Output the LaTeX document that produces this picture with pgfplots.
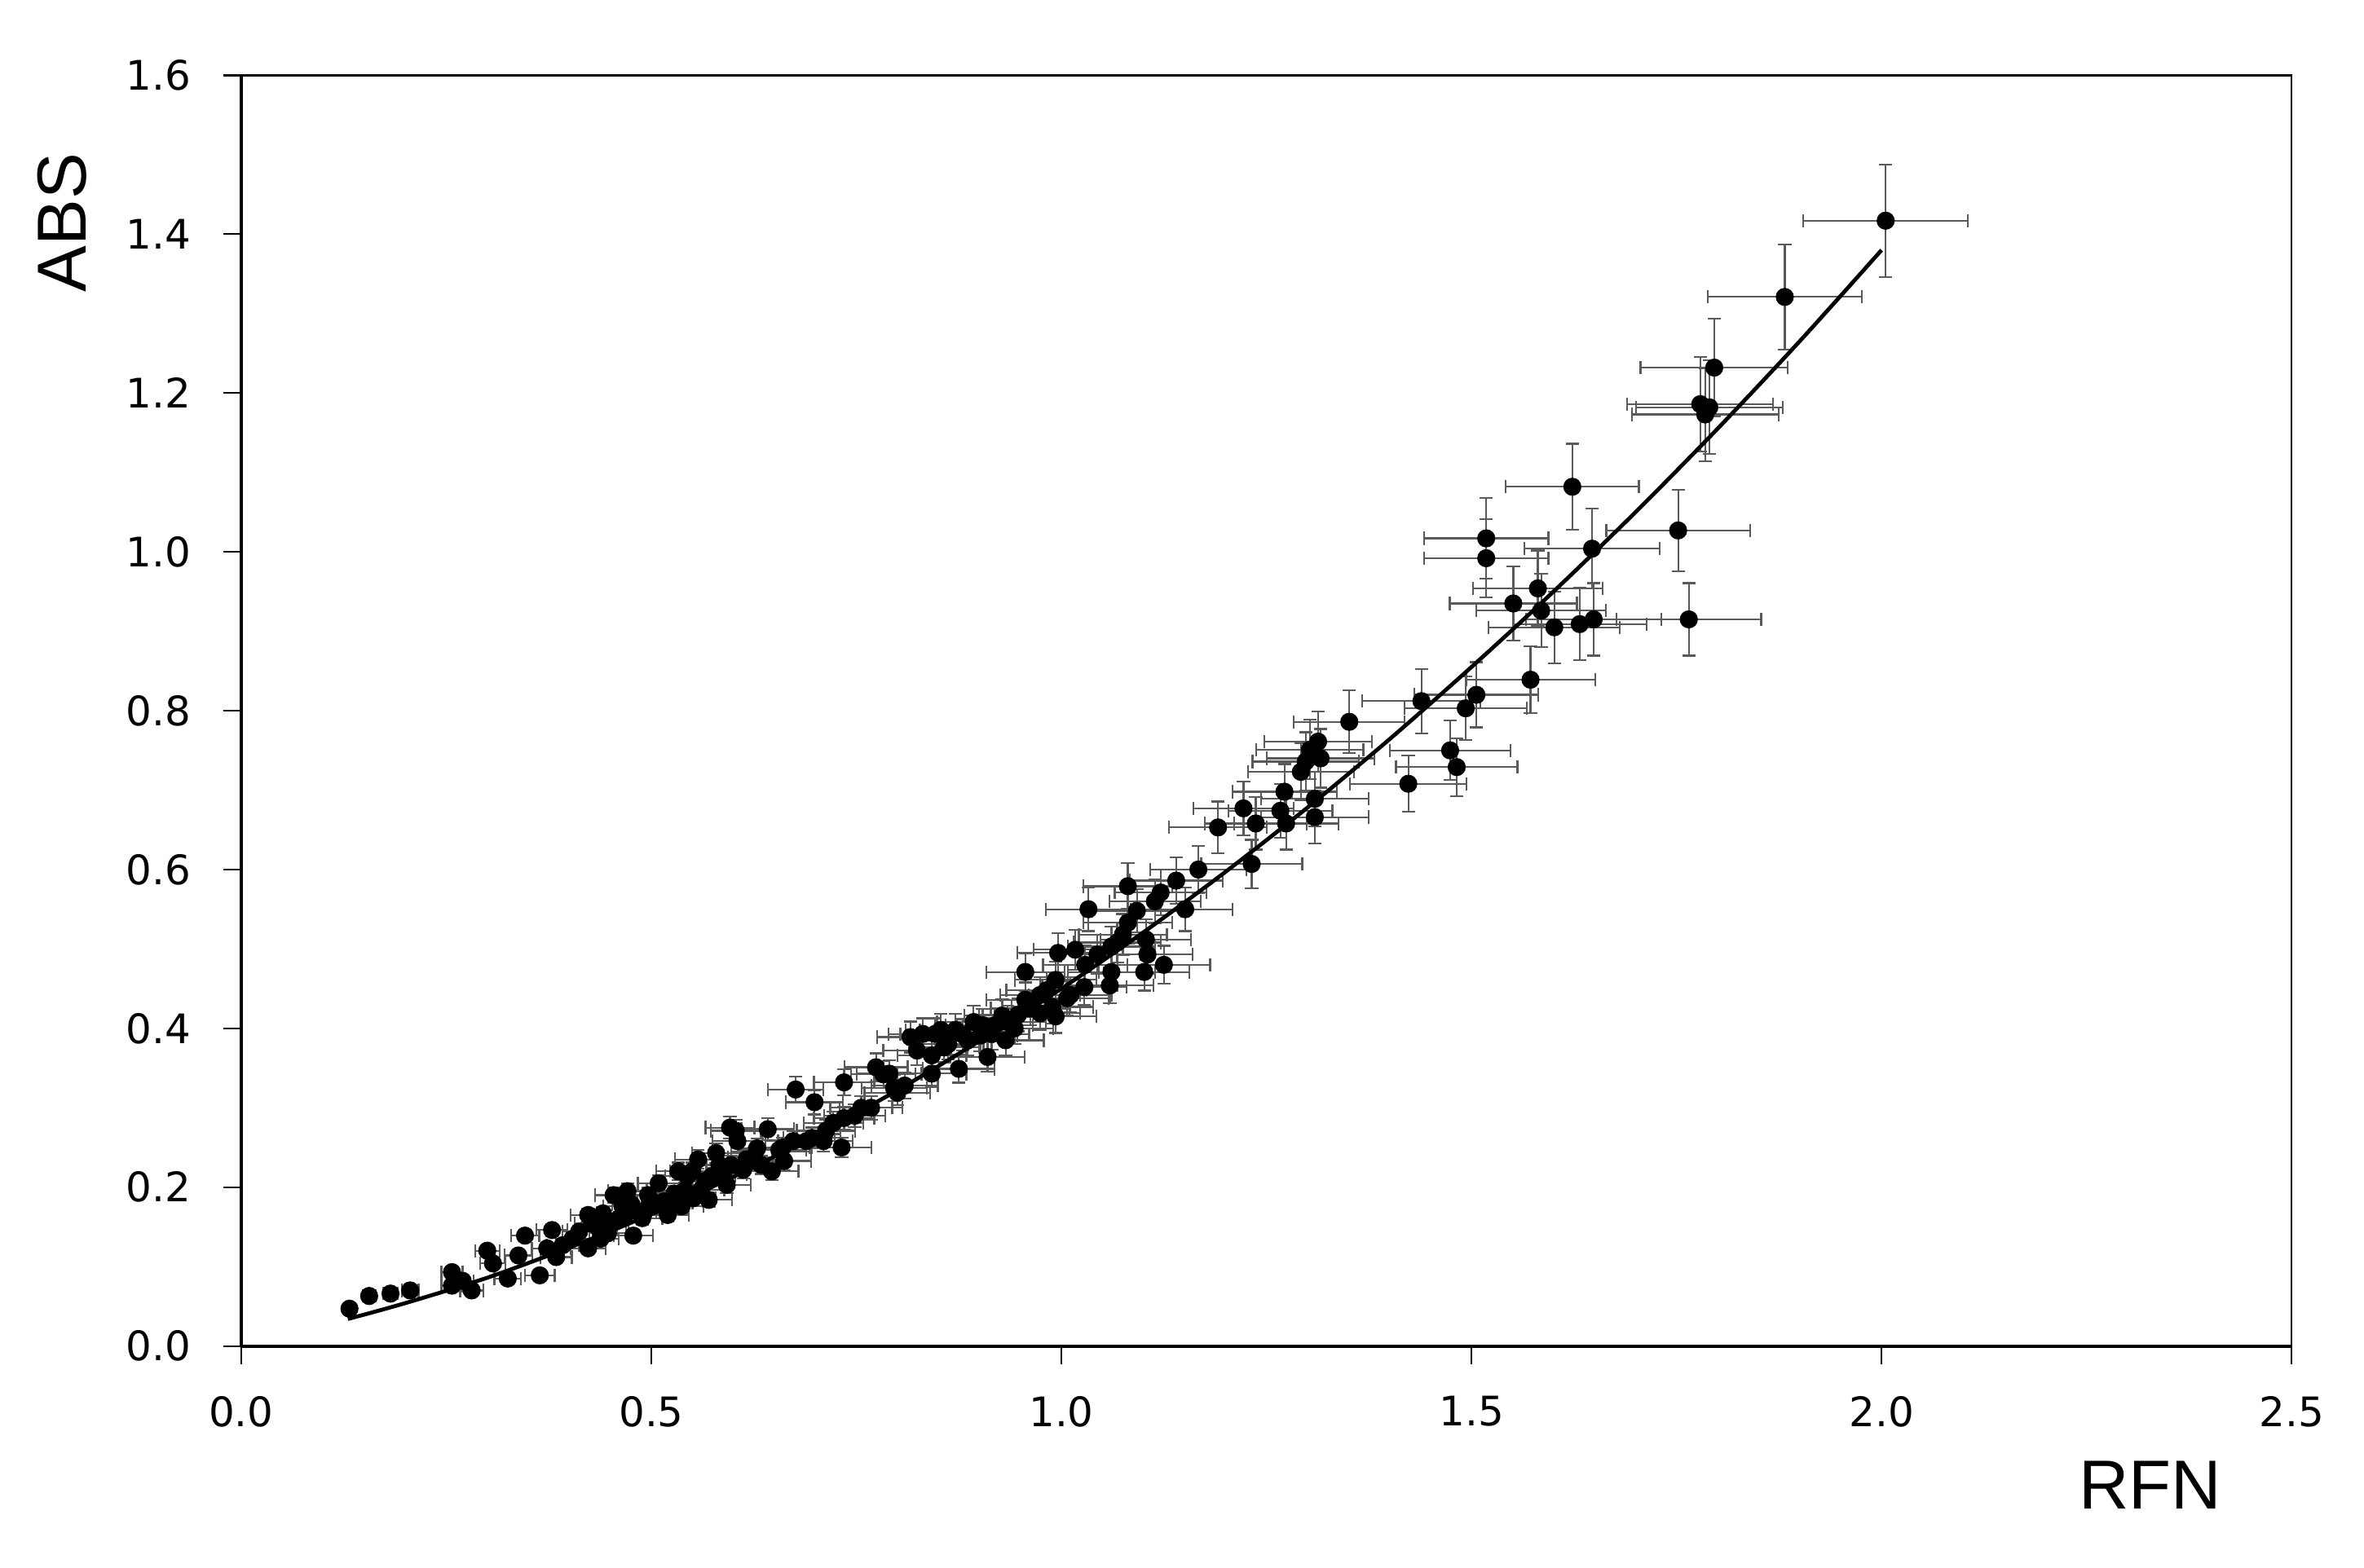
\documentclass[border=0pt]{standalone}
\usepackage{fontspec}
\setmainfont{DejaVu Sans}
\newfontfamily\labelfont{Liberation Sans}
\usepackage{pgfplots}
\pgfplotsset{compat=1.18}
\definecolor{errgray}{RGB}{90,90,90}

\begin{document}
\begin{tikzpicture}
\begin{axis}[
    name=ax,
    scale only axis,
    width=680pt, height=421.5pt,
    xmin=0, xmax=2.5, ymin=0, ymax=1.6,
    xtick={0,0.5,...,2.5},
    ytick={0,0.2,...,1.6},
    tick align=outside,
    xtick pos=bottom, ytick pos=left,
    major tick length=6pt,
    axis line style={line width=0.6pt},
    every tick/.style={black, line width=0.6pt},
    tick label style={font=\fontsize{13.5}{15}\selectfont},
    /pgf/number format/.cd, fixed, fixed zerofill, precision=1, assume math mode=true,
    /pgfplots/.cd,
    xticklabel style={inner sep=0pt, anchor=north, yshift=-10.5pt},
    yticklabel style={inner sep=0pt, anchor=east, xshift=-10.5pt},
    xlabel={RFN}, ylabel={ABS},
    label style={font=\labelfont\fontsize{23}{26}\selectfont, inner sep=0pt},
    xlabel style={at={(axis description cs:0.931,-0.0902)}, anchor=north},
    ylabel style={at={(axis description cs:-0.075,0.884)}, anchor=south, rotate=0},
    clip=false,
]
\draw[line width=1.1pt] (rel axis cs:0,0) -- (rel axis cs:1,0);
\draw[line width=1.1pt] (rel axis cs:0,0) -- (rel axis cs:0,1);
% measured points, error bars 5% of each value
\addplot[
    only marks, mark=*, mark size=2.8pt, black,
    error bars/.cd,
    x dir=both, x fixed relative=0.05,
    y dir=both, y fixed relative=0.05,
    error bar style={errgray, line width=0.6pt},
    error mark options={errgray, line width=0.6pt, mark size=2.2pt, rotate=90},
] table {
x y
2.005 1.417
1.882 1.321
1.796 1.232
1.779 1.186
1.790 1.182
1.785 1.173
1.623 1.082
1.518 1.017
1.518 0.992
1.647 1.004
1.752 1.027
1.765 0.915
1.551 0.935
1.581 0.954
1.585 0.926
1.601 0.905
1.632 0.909
1.649 0.915
1.572 0.839
1.506 0.820
1.493 0.803
1.439 0.812
1.351 0.786
1.423 0.708
1.474 0.750
1.482 0.729
1.313 0.761
1.303 0.751
1.298 0.736
1.292 0.723
1.316 0.740
1.272 0.698
1.267 0.674
1.274 0.658
1.309 0.689
1.309 0.666
1.222 0.677
1.237 0.658
1.191 0.653
1.232 0.607
1.167 0.600
1.151 0.550
1.140 0.586
1.121 0.571
1.114 0.560
1.081 0.579
1.033 0.550
1.092 0.548
1.081 0.533
1.075 0.518
1.103 0.512
1.061 0.503
1.125 0.480
1.105 0.493
1.101 0.471
1.061 0.471
1.059 0.454
1.017 0.499
0.996 0.495
0.956 0.471
1.011 0.442
1.028 0.452
0.993 0.461
0.989 0.427
0.974 0.442
0.956 0.436
0.947 0.417
0.943 0.400
0.934 0.408
0.919 0.404
0.904 0.404
0.893 0.408
0.901 0.391
0.932 0.385
0.910 0.364
0.886 0.385
0.871 0.398
0.853 0.398
0.846 0.393
0.831 0.393
0.816 0.389
0.824 0.372
0.842 0.366
0.857 0.376
0.875 0.349
0.842 0.343
0.809 0.328
0.800 0.319
0.783 0.342
0.774 0.351
0.790 0.343
0.735 0.332
0.756 0.300
0.735 0.287
0.722 0.281
0.713 0.271
0.699 0.307
0.676 0.323
0.732 0.250
0.710 0.258
0.689 0.258
0.673 0.258
0.656 0.247
0.642 0.273
0.629 0.249
0.605 0.258
0.603 0.271
0.596 0.275
0.616 0.235
0.634 0.228
0.597 0.228
0.583 0.228
0.574 0.214
0.592 0.203
0.561 0.197
0.544 0.214
0.533 0.220
0.570 0.184
0.551 0.186
0.537 0.176
0.520 0.165
0.515 0.182
0.496 0.190
0.509 0.205
0.489 0.161
0.476 0.178
0.465 0.176
0.461 0.161
0.450 0.154
0.441 0.167
0.428 0.154
0.423 0.165
0.412 0.144
0.438 0.135
0.423 0.123
0.404 0.135
0.392 0.127
0.379 0.146
0.373 0.123
0.384 0.112
0.364 0.089
0.346 0.139
0.338 0.114
0.325 0.085
0.300 0.120
0.307 0.104
0.257 0.093
0.257 0.076
0.270 0.082
0.281 0.070
0.206 0.070
0.182 0.066
0.156 0.063
0.132 0.047
0.471 0.195
0.454 0.190
0.478 0.139
0.493 0.171
0.528 0.192
0.550 0.220
0.557 0.235
0.579 0.243
0.647 0.220
0.662 0.233
0.974 0.419
0.993 0.415
1.007 0.438
1.029 0.480
1.044 0.493
1.068 0.508
0.436 0.148
0.447 0.142
0.468 0.165
0.482 0.170
0.502 0.176
0.524 0.180
0.541 0.196
0.566 0.208
0.587 0.216
0.612 0.222
0.625 0.238
0.660 0.250
0.696 0.262
0.748 0.290
0.768 0.300
0.796 0.325
0.862 0.380
0.880 0.392
0.915 0.393
0.928 0.416
0.962 0.425
0.982 0.448
};
% fitted curve
\addplot[black, line width=1.3pt, smooth] table {
x y
0.13 0.034
0.2 0.054
0.3 0.086
0.4 0.124
0.5 0.166
0.6 0.213
0.7 0.265
0.8 0.322
0.9 0.384
1.0 0.450
1.1 0.521
1.2 0.597
1.3 0.678
1.4 0.764
1.5 0.855
1.6 0.950
1.7 1.050
1.8 1.155
1.9 1.265
2.0 1.380
};
\end{axis}
\path ([xshift=-80pt,yshift=-73.5pt]ax.south west) rectangle ([xshift=24pt,yshift=25pt]ax.north east);
\end{tikzpicture}
\end{document}
